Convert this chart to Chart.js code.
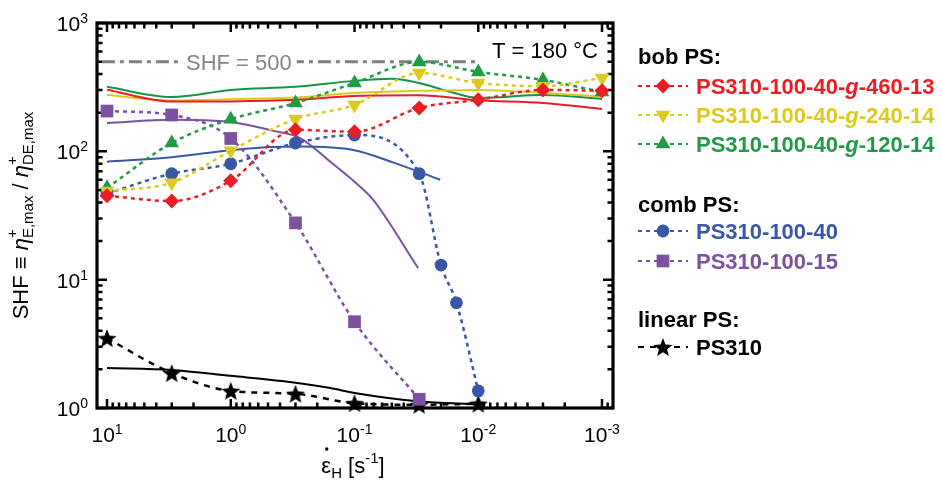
<!DOCTYPE html>
<html><head><meta charset="utf-8">
<script src="https://cdn.jsdelivr.net/npm/chart.js@4/dist/chart.umd.min.js"></script>
<style>html,body{margin:0;padding:0;background:#fff;}#wrap{width:942px;height:481px;}</style>
</head><body><div id="wrap"><canvas id="c" width="942" height="481"></canvas></div>
<script>
// ---- measured data (markers + dotted curves) ----
const rates = [10, 3, 1, 0.3, 0.1, 0.03, 0.01, 0.003, 0.001];
const bob460 = [45, 41, 59, 147, 142, 218, 252, 301, 296];
const bob240 = [49, 57, 101, 179, 230, 408, 341, 322, 373];
const bob120 = [52, 116, 178, 238, 341, 497, 416, 360, 290];
const comb40Rates = [10, 3, 1, 0.3, 0.1, 0.03, 0.02, 0.015, 0.01];
const comb40 = [47, 67, 80, 116, 134, 67, 13.0, 6.6, 1.36];
const comb15Rates = [10, 3, 1, 0.3, 0.1, 0.03];
const comb15 = [206, 192, 126, 27.7, 4.7, 1.17];
const linRates = [10, 3, 1, 0.3, 0.1, 0.03, 0.01];
const lin310 = [3.5, 1.87, 1.36, 1.29, 1.09, 1.06, 1.08];
// ---- model predictions (solid lines) ----
const fitRates = [10, 3, 1, 0.3, 0.1, 0.03, 0.01, 0.003, 0.001];
const fit460 = [302, 244, 245, 252, 270, 273, 250, 238, 214];
const fit240 = [275, 249, 255, 263, 285, 296, 301, 285, 268];
const fit120Rates = [10, 3, 1, 0.3, 0.1, 0.05, 0.03, 0.018, 0.01, 0.003, 0.001];
const fit120 = [318, 265, 301, 318, 354, 367, 341, 296, 261, 275, 256];
const fit40Rates = [10, 3, 1, 0.48, 0.275, 0.1, 0.049, 0.0203];
const fit40 = [83, 90, 102, 108, 109, 102, 82, 60];
const fit15Rates = [10, 3, 1, 0.46, 0.275, 0.157, 0.09, 0.0708, 0.0306];
const fit15 = [166, 176, 169, 145, 127, 83, 53, 42, 12.3];
const fitLinRates = [10, 3, 1, 0.385, 0.157, 0.1, 0.031, 0.01];
const fitLin = [2.05, 1.98, 1.78, 1.62, 1.43, 1.31, 1.13, 1.07];
// ---- reference level ----
const refRates = [11, 0.01];
const refLevel = [500, 500];
// ---- ticks ----
const xTicks = [10, 1, 0.1, 0.01, 0.001];
const xTickExp = ['1', '0', '-1', '-2', '-3'];
const yTicks = [1, 10, 100, 1000];
const yTickExp = ['0', '1', '2', '3'];

const RED = '#ec1c24', YEL = '#dccb1e', GRN = '#1f9b45', BLU = '#3a56a7', PUR = '#7b51a0', BLK = '#000000';
const FONT = '"Liberation Sans", Arial, Helvetica, sans-serif';

function makeStar(color, R, r) {
  const s = Math.ceil(R * 2 + 2);
  const c = document.createElement('canvas');
  c.width = s; c.height = s;
  const g = c.getContext('2d');
  g.fillStyle = color; g.beginPath();
  for (let i = 0; i < 10; i++) {
    const a = -Math.PI / 2 + i * Math.PI / 5, rr = i % 2 ? r : R;
    g.lineTo(s / 2 + rr * Math.cos(a), s / 2 + 1 + rr * Math.sin(a));
  }
  g.closePath(); g.fill();
  return c;
}
const starImg = makeStar('#000', 10, 4.3);

const pts = (xs, ys) => xs.map((x, i) => ({x: x, y: ys[i]}));
function measured(label, xs, ys, color, style, radius, rot, dash) {
  return {label, data: pts(xs, ys), showLine: true, borderColor: color, backgroundColor: color,
    borderWidth: 2.5, borderDash: dash || [4, 4], pointStyle: style, pointRadius: radius, pointHoverRadius: radius,
    pointRotation: rot || 0, pointBorderWidth: 0, pointBackgroundColor: color,
    cubicInterpolationMode: 'monotone', clip: false};
}
function model(label, xs, ys, color) {
  return {label, data: pts(xs, ys), showLine: true, borderColor: color, backgroundColor: color,
    borderWidth: 2, pointRadius: 0, pointHoverRadius: 0, tension: 0.4, cubicInterpolationMode: 'monotone', clip: false, isModel: true};
}

const datasets = [
  measured('PS310-100-40-g-460-13', rates, bob460, RED, 'rectRot', 7.5),
  measured('PS310-100-40-g-240-14', rates, bob240, YEL, 'triangle', 8.5, 180),
  measured('PS310-100-40-g-120-14', rates, bob120, GRN, 'triangle', 8.5),
  measured('PS310-100-40', comb40Rates, comb40, BLU, 'circle', 6.4),
  measured('PS310-100-15', comb15Rates, comb15, PUR, 'rect', 9),
  measured('PS310', linRates, lin310, BLK, starImg, 10, 0, [6, 6]),
  model('model 460-13', fitRates, fit460, RED),
  model('model 240-14', fitRates, fit240, YEL),
  model('model 120-14', fit120Rates, fit120, '#17924a'),
  model('model 100-40', fit40Rates, fit40, BLU),
  model('model 100-15', fit15Rates, fit15, PUR),
  model('model PS310', fitLinRates, fitLin, BLK),
  {label: 'SHF = 500', data: pts(refRates, refLevel), showLine: true, borderColor: '#808080',
   borderWidth: 3, borderDash: [13, 5, 4, 5], pointRadius: 0, clip: false, isModel: true}
];

function drawPow(ctx, exp, x, baseY, align) {
  ctx.font = '21px ' + FONT;
  const wb = ctx.measureText('10').width;
  ctx.font = '14px ' + FONT;
  const ws = ctx.measureText(exp).width;
  let sx = align === 'center' ? x - (wb + ws) / 2 : x - (wb + ws);
  ctx.textAlign = 'left'; ctx.textBaseline = 'alphabetic';
  ctx.font = '21px ' + FONT; ctx.fillText('10', sx, baseY);
  ctx.font = '14px ' + FONT; ctx.fillText(exp, sx + wb, baseY - 8);
}

function drawRuns(ctx, runs, x, y) {
  // runs: {t, f, dy}
  let cx = x;
  runs.forEach(r => {
    ctx.font = r.f;
    ctx.fillText(r.t, cx, y + (r.dy || 0));
    cx += ctx.measureText(r.t).width;
  });
  return cx - x;
}
function runsWidth(ctx, runs) {
  let w = 0;
  runs.forEach(r => { ctx.font = r.f; w += ctx.measureText(r.t).width; });
  return w;
}

const frame = {
  id: 'frame',
  beforeDatasetsDraw(chart) {
    const {ctx, chartArea: a, scales: {x, y}} = chart;
    ctx.save();
    ctx.strokeStyle = '#000';
    ctx.lineWidth = 2.5; ctx.lineCap = 'butt';
    // y ticks (left & right, inward)
    for (let d = 0; d <= 3; d++) {
      for (let m = 1; m <= 9; m++) {
        const v = m * Math.pow(10, d);
        if (v > 1000) break;
        const py = y.getPixelForValue(v);
        const L = m === 1 ? 10 : 5.5;
        ctx.beginPath(); ctx.moveTo(a.left, py); ctx.lineTo(a.left + L, py);
        ctx.moveTo(a.right, py); ctx.lineTo(a.right - L, py); ctx.stroke();
      }
    }
    // x ticks (top & bottom, inward)
    for (let d = -4; d <= 1; d++) {
      for (let m = 1; m <= 9; m++) {
        const v = m * Math.pow(10, d);
        if (v < x.min || v > x.max) continue;
        const px = x.getPixelForValue(v);
        const L = m === 1 ? 9 : 5.5;
        ctx.beginPath(); ctx.moveTo(px, a.bottom); ctx.lineTo(px, a.bottom - L);
        ctx.moveTo(px, a.top); ctx.lineTo(px, a.top + L); ctx.stroke();
      }
    }
    ctx.lineWidth = 3.2;
    ctx.strokeRect(a.left, a.top, a.right - a.left, a.bottom - a.top);
    ctx.restore();
  },
  afterDatasetsDraw(chart) {
    const {ctx, chartArea: a, scales: {x, y}} = chart;
    ctx.save();
    // SHF = 500 label
    const py500 = y.getPixelForValue(500);
    ctx.font = '22px ' + FONT;
    const t1 = 'SHF = 500';
    const w1 = ctx.measureText(t1).width;
    ctx.fillStyle = '#fff';
    ctx.fillRect(181, py500 - 12, w1 + 10, 24);
    ctx.fillStyle = '#858585'; ctx.textBaseline = 'alphabetic'; ctx.textAlign = 'left';
    ctx.fillText(t1, 186, py500 + 8);
    // T label
    ctx.fillStyle = '#000'; ctx.textAlign = 'right';
    ctx.fillText('T = 180 \u00B0C', 598, 58);
    // tick labels
    ctx.fillStyle = '#000';
    xTicks.forEach((v, i) => drawPow(ctx, xTickExp[i], x.getPixelForValue(v), 442, 'center'));
    yTicks.forEach((v, i) => drawPow(ctx, yTickExp[i], 88, y.getPixelForValue(v) + 8, 'right'));
    // x title
    const R = '22px ' + FONT, S = '15px ' + FONT;
    const xr = [{t: '\u03B5', f: R}, {t: 'H', f: S, dy: 5}, {t: ' [s', f: R}, {t: '-1', f: S, dy: -10}, {t: ']', f: R}];
    const xw = runsWidth(ctx, xr);
    const xs = (a.left + a.right) / 2 - xw / 2 - 2;
    ctx.textAlign = 'left';
    drawRuns(ctx, xr, xs, 473);
    ctx.font = R;
    const ew = ctx.measureText('\u03B5').width;
    ctx.beginPath(); ctx.arc(xs + ew / 2 + 0.5, 449, 1.7, 0, Math.PI * 2); ctx.fill();
    // y title (rotated)
    ctx.save();
    ctx.translate(28, (a.top + a.bottom) / 2);
    ctx.rotate(-Math.PI / 2);
    const I = 'italic 22px ' + FONT;
    const parts = [
      {t: 'SHF \u2261 ', f: R}, {t: '\u03B7', f: I}, {stack: ['+', 'E,max']},
      {t: ' / ', f: R}, {t: '\u03B7', f: I}, {stack: ['+', 'DE,max']}
    ];
    let tw = 0;
    parts.forEach(p => {
      if (p.stack) { ctx.font = S; p.w = Math.max(ctx.measureText(p.stack[0]).width, ctx.measureText(p.stack[1]).width); }
      else { ctx.font = p.f; p.w = ctx.measureText(p.t).width; }
      tw += p.w;
    });
    let cx = -tw / 2;
    parts.forEach(p => {
      if (p.stack) {
        ctx.font = S;
        ctx.fillText(p.stack[0], cx, -11);
        ctx.fillText(p.stack[1], cx, 5);
      } else { ctx.font = p.f; ctx.fillText(p.t, cx, 0); }
      cx += p.w;
    });
    ctx.restore();
    // legend
    const B = 'bold 22px ' + FONT, BI = 'italic bold 22px ' + FONT;
    const gl = (pre, post) => [{t: pre, f: B}, {t: 'g', f: BI}, {t: post, f: B}];
    const legend = [
      {head: 'bob PS:', y: 56},
      {ds: 0, y: 86, runs: gl('PS310-100-40-', '-460-13')},
      {ds: 1, y: 115, runs: gl('PS310-100-40-', '-240-14')},
      {ds: 2, y: 144, runs: gl('PS310-100-40-', '-120-14')},
      {head: 'comb PS:', y: 204},
      {ds: 3, y: 231, runs: [{t: 'PS310-100-40', f: B}]},
      {ds: 4, y: 261, runs: [{t: 'PS310-100-15', f: B}]},
      {head: 'linear PS:', y: 319},
      {ds: 5, y: 347, runs: [{t: 'PS310', f: B}]}
    ];
    legend.forEach(it => {
      ctx.textAlign = 'left'; ctx.textBaseline = 'alphabetic';
      if (it.head) {
        ctx.fillStyle = '#000'; ctx.font = B;
        ctx.fillText(it.head, 638, it.y + 8);
        return;
      }
      const ds = chart.data.datasets[it.ds];
      const col = ds.borderColor;
      ctx.save();
      ctx.strokeStyle = col; ctx.lineWidth = 2; ctx.setLineDash(ds.borderDash || []);
      ctx.beginPath(); ctx.moveTo(638, it.y); ctx.lineTo(688, it.y); ctx.stroke();
      ctx.setLineDash([]);
      ctx.fillStyle = col;
      Chart.helpers.drawPoint(ctx, {pointStyle: ds.pointStyle, rotation: ds.pointRotation || 0,
        radius: ds.pointRadius, borderWidth: 0}, 663, it.y);
      ctx.restore();
      ctx.fillStyle = col;
      drawRuns(ctx, it.runs, 696, it.y + 8);
    });
    ctx.restore();
  }
};

new Chart(document.getElementById('c'), {
  type: 'scatter',
  data: {datasets},
  options: {
    responsive: false, animation: false, events: [],
    layout: {padding: {left: 97, right: 329, top: 23, bottom: 73}},
    plugins: {legend: {display: false}, tooltip: {enabled: false}},
    scales: {
      x: {type: 'logarithmic', reverse: true, min: 8.15e-4, max: 12.05, display: false},
      y: {type: 'logarithmic', min: 1, max: 1000, display: false}
    }
  },
  plugins: [frame]
});
</script></body></html>
